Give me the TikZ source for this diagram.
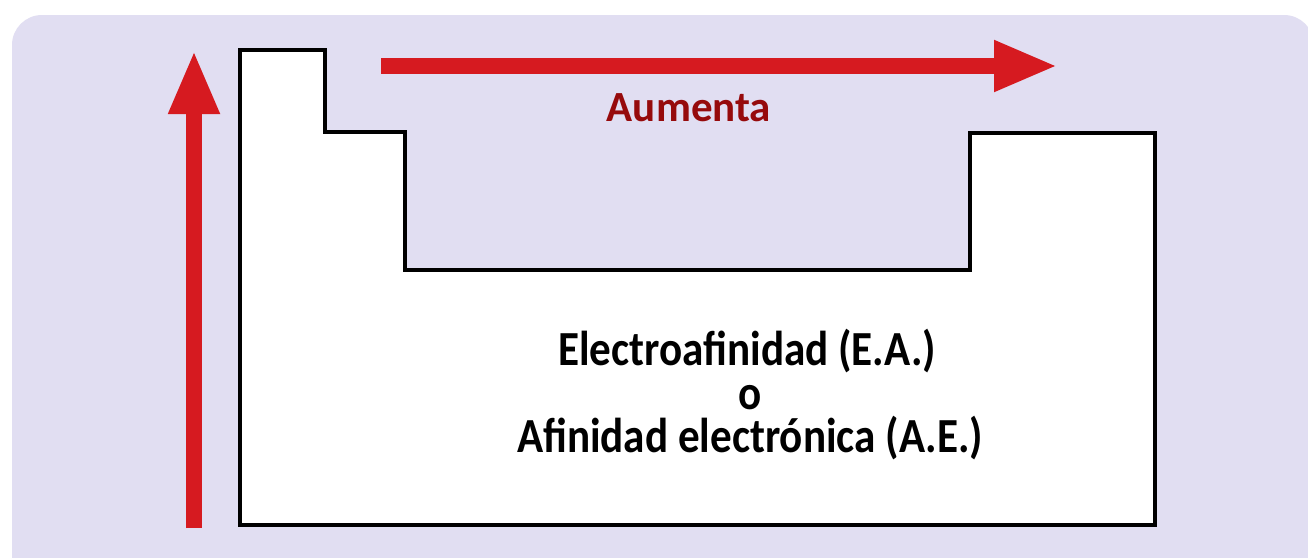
\documentclass[tikz,border=0pt]{standalone}
\usepackage{fontspec}
\setmainfont{Carlito}
\newfontfamily\narrowfont[FakeStretch=0.88]{Carlito}
\usetikzlibrary{positioning,arrows.meta}
\definecolor{lavanda}{RGB}{225,222,242}
\definecolor{rojo}{RGB}{214,26,32}
\definecolor{granate}{RGB}{150,10,12}
\tikzset{table/.style={draw=black,line width=4pt,fill=white,line join=miter},
         bigarrow/.style={draw=rojo,line width=16pt,-{Triangle[width=47pt,length=64pt]}},
         title/.style={text=granate,font=\fontsize{43}{46}\selectfont\bfseries},
         label/.style={anchor=base,inner sep=0pt,font=\narrowfont\fontsize{49}{52}\selectfont\bfseries}
     }
\begin{document}
\begin{tikzpicture}[x=1pt,y=-1pt]
\useasboundingbox (0,0) rectangle (1308,557);
\fill[white] (0,0) rectangle (1308,557);
\fill[lavanda,rounded corners=30pt] (12,15) rectangle (1314,590);
% periodic table outline
\draw[table] (240,50) -- (325,50) -- (325,132) -- (405,132) -- (405,270)
  -- (970,270) -- (970,133) -- (1155,133) -- (1155,525) -- (240,525) -- cycle;
\coordinate (vbot) at (194,528);
\coordinate (vtop) at (194,50);
\coordinate (hleft) at (381,66);
\coordinate (hright) at (1058,66);
\draw[bigarrow] (vbot) -- (vtop);
\draw[bigarrow] (hleft) -- (hright);
\node[title] (aumenta) at (689,108) {Aumenta};
\node[label] (ea) at (747,365) {Electroafinidad (E.A.)};
\node[label] (o) at (750,409) {o};
\node[label] (ae) at (750,452) {Afinidad electrónica (A.E.)};
\end{tikzpicture}
\end{document}
